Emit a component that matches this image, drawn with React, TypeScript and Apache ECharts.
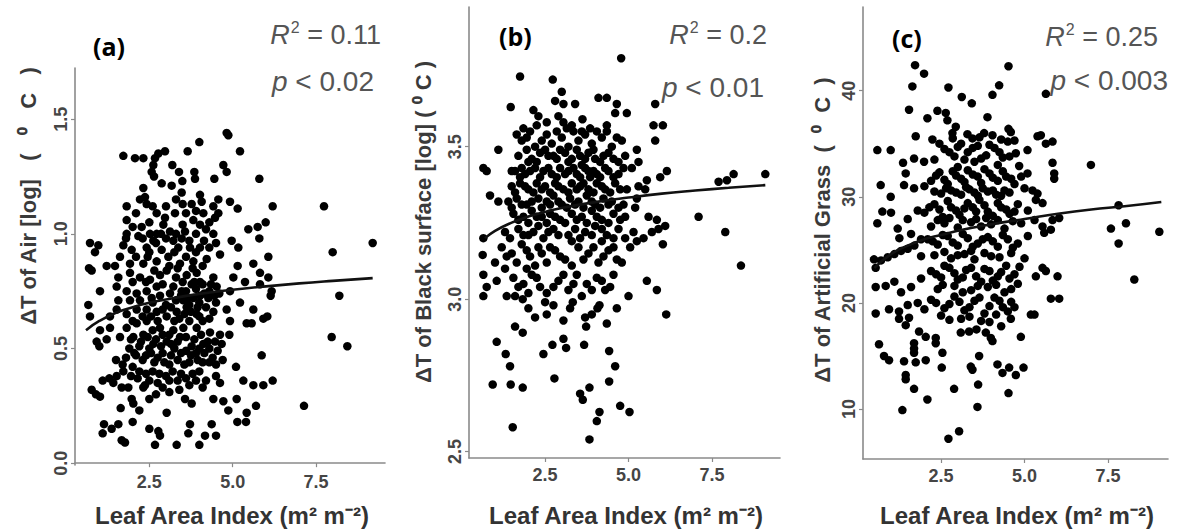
import React, { useEffect, useRef } from "react";
import * as echarts from "echarts";

// ---------- data ----------
const xTicks = [2.5, 5, 7.5];
const airTicks = [0, 0.5, 1, 1.5];
const blackTicks = [2.5, 3, 3.5];
const grassTicks = [10, 20, 30, 40];

const airPoints: [number, number][] = [
  [4.82,1.44],[4.87,1.43],[4.0,1.40],[5.22,1.36],[3.65,1.36],[2.97,1.36],[2.77,1.35],[2.67,1.33],[1.72,1.34],[2.07,1.33],[2.32,1.33],
  [3.19,1.30],[2.62,1.30],[4.72,1.30],[4.82,1.27],[3.39,1.27],[2.57,1.27],[5.8,1.24],[3.85,1.27],[3.87,1.24],[2.64,1.25],[4.45,1.24],[2.87,1.22],[3.49,1.23],[3.17,1.21],
  [2.32,1.20],[3.47,1.18],[2.37,1.16],[2.22,1.15],[4.02,1.17],[4.07,1.14],[4.57,1.15],[4.92,1.14],[6.2,1.12],[2.42,1.13],[3.5,1.13],[3.77,1.13],[4.42,1.12],[5.15,1.11],[4.57,1.09],
  [1.82,1.12],[2.1,1.09],[1.82,1.06],[2.72,1.09],[3.27,1.09],[4.12,1.09],[4.47,1.07],[5.75,1.03],[5.99,1.05],
  [2.97,1.07],[2.27,1.03],[2.92,1.04],[3.82,1.06],[4.02,1.04],[3.57,1.01],[3.12,1.01],[2.72,1.0],[4.42,1.0],[5.47,1.02],
  [1.82,1.0],[1.8,0.98],[2.17,0.99],[2.52,1.0],[2.62,0.97],[3.22,0.97],[3.47,0.98],[4.14,0.97],[4.97,0.97],[5.17,0.94],[5.8,0.98],
  [0.72,0.96],[0.87,0.92],[0.97,0.95],[1.72,0.95],[1.97,0.93],[2.42,0.94],[2.87,0.93],[3.37,0.94],[3.72,0.94],[4.02,0.94],[4.62,0.91],[6.07,0.90],
  [0.69,0.85],[0.77,0.84],[1.22,0.86],[1.62,0.90],[1.47,0.86],[1.92,0.87],[2.32,0.87],[2.72,0.88],[3.07,0.9],[3.42,0.87],[3.82,0.88],[4.22,0.89],[5.15,0.86],[5.62,0.87],[5.82,0.83],[6.07,0.81],
  [1.57,0.81],[1.92,0.83],[2.22,0.81],[2.52,0.8],[2.82,0.82],[3.02,0.84],[3.62,0.82],[3.92,0.83],[4.42,0.81],[5.02,0.81],[5.37,0.79],[5.82,0.78],[6.14,0.73],
  [0.67,0.69],[0.72,0.64],[1.02,0.75],[1.52,0.77],[1.82,0.75],[2.12,0.74],[2.42,0.75],[2.72,0.77],[3.22,0.77],[3.47,0.75],[3.77,0.78],[4.02,0.79],[4.52,0.77],[4.92,0.75],[6.17,0.75],
  [1.57,0.71],[1.92,0.71],[2.22,0.71],[2.57,0.72],[2.82,0.73],[3.12,0.74],[3.52,0.71],[3.82,0.72],[4.02,0.73],[4.27,0.72],[4.82,0.67],[5.22,0.7],[5.62,0.67],[6.04,0.64],[5.57,0.61],[5.42,0.61],
  [1.02,0.58],[1.32,0.64],[1.52,0.67],[1.82,0.65],[2.12,0.67],[2.42,0.67],[2.72,0.66],[3.02,0.64],[3.32,0.66],[3.62,0.68],[3.92,0.65],[4.42,0.66],[4.92,0.62],[5.92,0.63],
  [1.32,0.59],[1.82,0.59],[2.12,0.61],[2.42,0.62],[2.82,0.59],[3.22,0.58],[3.52,0.59],[3.92,0.59],[4.32,0.57],[4.62,0.56],[4.9,0.56],
  [0.92,0.53],[1.22,0.54],[1.62,0.55],[2.02,0.55],[2.32,0.56],[2.62,0.52],[3.02,0.53],[3.42,0.55],[3.77,0.51],[4.12,0.52],[4.47,0.53],[4.67,0.52],[5.87,0.47],
  [1.0,0.51],[1.1,0.36],[0.77,0.32],[0.9,0.30],[1.02,0.29],[1.14,0.17],[1.1,0.13],[1.37,0.15],[1.57,0.17],[1.67,0.10],[1.77,0.09],[2.0,0.18],[1.64,0.24],[1.97,0.28],[2.02,0.26],[2.2,0.23],[2.5,0.28],[2.5,0.15],[2.77,0.14],[2.82,0.12],[2.67,0.08],[3.02,0.22],[3.32,0.08],[3.57,0.28],[3.77,0.26],[3.72,0.17],[3.67,0.13],[4.0,0.08],[4.17,0.12],[4.37,0.17],[4.5,0.12],[4.42,0.28],[4.72,0.27],[4.87,0.23],[5.12,0.28],[5.1,0.42],[5.14,0.18],[5.4,0.18],[5.42,0.22],[5.7,0.25],[5.62,0.34],[5.92,0.34],[6.2,0.36],[5.32,0.36],[4.62,0.35],[7.14,0.25],
  [1.42,0.35],[1.67,0.33],[1.87,0.33],[2.32,0.33],[2.37,0.34],[1.3,0.37],[1.52,0.38],[1.72,0.40],[2.0,0.42],[2.2,0.40],[2.4,0.39],[2.6,0.40],[2.8,0.39],[3.0,0.38],[3.2,0.40],[3.35,0.36],[3.6,0.37],[3.8,0.39],[4.0,0.40],[4.2,0.36],[4.5,0.38],[2.9,0.33],[3.1,0.31],[3.4,0.32],[2.7,0.30],[4.3,0.44],
  [1.5,0.45],[1.8,0.46],[2.1,0.47],[2.3,0.45],[2.55,0.48],[2.75,0.46],[2.95,0.44],[3.15,0.47],[3.35,0.45],[3.55,0.43],[3.75,0.47],[3.95,0.45],[4.15,0.48],[4.4,0.46],[4.7,0.45],[1.9,0.50],[2.2,0.51],[2.5,0.50],[2.85,0.51],[3.25,0.50],[3.6,0.49],[4.0,0.50],[4.3,0.50],
  [7.74,1.12],[9.2,0.96],[8.0,0.92],[8.2,0.73],[7.97,0.55],[8.44,0.51],
  [3.3,0.71],[3.6,0.75],[3.9,0.76],[4.1,0.78],[4.3,0.75],[4.0,0.70],[3.7,0.69],[3.4,0.63],[3.7,0.62],[4.1,0.62],[4.2,0.68],[3.5,0.79],[3.3,0.81],[2.9,0.78],[2.6,0.70],[2.3,0.64],[2.0,0.62],[2.6,0.58],[3.1,0.56],[3.0,0.69],[2.4,0.79],[2.0,0.79],[4.5,0.70],[4.6,0.74],
  [2.5,0.92],[2.7,0.96],[3.0,0.98],[3.3,1.0],[3.6,0.9],[3.9,0.92],[4.3,0.94],[4.5,0.96],[2.1,0.9],[3.1,0.86],[3.9,1.0],[4.3,1.05],[2.5,1.05],[3.0,1.12],[3.6,1.09],
  [1.95,0.54],[2.25,0.53],[2.45,0.55],[2.7,0.54],[2.9,0.56],[3.15,0.52],[3.35,0.53],[3.6,0.55],[3.85,0.54],[4.05,0.56],[4.25,0.53],[4.55,0.49],
  [2.05,0.48],[2.4,0.47],[2.65,0.44],[2.9,0.48],[3.1,0.43],[3.45,0.48],[3.7,0.44],[3.9,0.48],[4.1,0.44],[4.5,0.43],[1.7,0.43],
  [2.15,0.37],[2.5,0.36],[2.75,0.35],[3.1,0.36],[3.45,0.39],[3.7,0.34],[3.9,0.36],[4.1,0.33],[1.95,0.38],
  [3.45,0.73],[3.65,0.72],[3.85,0.79],[4.15,0.74],[4.35,0.78],[4.45,0.73],[3.95,0.68],[3.55,0.65],[3.75,0.66],[4.0,0.64],[4.3,0.63],[2.9,0.67],[3.15,0.68],[2.55,0.64],[2.75,0.62],[3.25,0.62],[3.8,0.85],[4.1,0.86],[3.35,0.85],[2.65,0.84],
  [2.3,0.98],[2.85,1.0],[3.5,1.04],[3.7,0.97],[4.2,1.02],[2.6,1.12],[3.3,1.15],[3.9,1.1],[2.0,1.03],[2.45,0.9],[3.25,0.92]
];

const blackPoints: [number, number][] = [
  [4.78,3.79],[1.75,3.73],[2.73,3.72],[3.0,3.68],[2.8,3.65],[3.05,3.64],[3.4,3.64],[4.1,3.66],[4.35,3.66],[4.65,3.64],[4.95,3.61],[5.8,3.64],[1.47,3.63],[2.15,3.62],[2.3,3.60],[3.62,3.59],[2.55,3.58],[3.05,3.58],[3.3,3.57],[3.85,3.56],[4.35,3.57],[5.75,3.57],[6.03,3.57],[1.85,3.56],[2.25,3.57],[1.65,3.54],[1.95,3.53],[5.8,3.52],[1.1,3.49],[5.25,3.49],[4.6,3.61],[2.9,3.60],
  [0.65,3.43],[0.75,3.42],[0.85,3.34],[1.1,3.32],[1.5,3.42],[1.8,3.43],[2.0,3.45],[0.65,3.2],[0.63,3.145],[0.65,3.08],[0.75,3.04],[0.65,3.01],[1.0,3.12],[1.05,3.06],[1.35,3.01],[1.6,3.01],[1.83,3.0],[1.3,3.1],[1.6,2.91],[1.83,2.89],[2.2,2.94],[1.05,2.86],[1.32,2.82],[1.45,2.78],[0.93,2.72],[1.47,2.72],[1.83,2.71],[1.53,2.58],
  [6.15,3.42],[5.95,3.40],[5.55,3.39],[5.5,3.36],[7.7,3.385],[7.95,3.39],[8.15,3.41],[9.1,3.41],[7.1,3.27],[7.9,3.22],[8.37,3.11],
  [2.45,2.82],[2.72,2.85],[2.78,2.74],[3.05,2.87],[3.13,2.84],[3.67,2.85],[3.73,2.91],[3.7,2.94],[3.25,2.97],[3.33,2.99],[3.83,2.71],[3.55,2.69],[3.63,2.67],[3.83,2.54],[4.05,2.6],[4.13,2.63],[4.42,2.83],[4.6,2.78],[4.42,2.73],[4.75,2.65],[5.03,2.63],[4.13,2.98],[4.07,2.97],[4.65,2.97],[5.0,3.01],[5.55,3.06],[5.85,3.03],[6.13,2.95],
  [4.8,3.12],[5.05,3.17],[5.25,3.19],[6.03,3.18],[6.1,3.24],[5.9,3.23],[5.7,3.22],[5.45,3.2],[5.6,3.27],[5.85,3.26],[5.2,3.3],[5.25,3.33],
  [2.4,3.52],[2.7,3.51],[3.0,3.53],[3.2,3.50],[3.5,3.52],[3.7,3.54],[3.9,3.51],[4.2,3.53],[4.5,3.50],[4.8,3.52],[2.2,3.50],[3.35,3.55],[4.05,3.55],
  [1.7,3.47],[2.1,3.46],[2.35,3.48],[2.6,3.47],[2.85,3.46],[3.1,3.48],[3.3,3.46],[3.55,3.47],[3.8,3.48],[4.0,3.46],[4.25,3.47],[4.55,3.46],[4.9,3.47],[5.3,3.45],
  [1.6,3.42],[1.9,3.41],[2.2,3.43],[2.45,3.42],[2.7,3.41],[2.95,3.43],[3.2,3.42],[3.45,3.41],[3.7,3.43],[3.95,3.42],[4.15,3.40],[4.4,3.42],[4.7,3.41],[5.1,3.43],[3.6,3.44],[3.85,3.40],
  [1.5,3.37],[1.75,3.38],[2.0,3.36],[2.25,3.38],[2.5,3.37],[2.8,3.38],[3.05,3.36],[3.3,3.38],[3.55,3.37],[3.8,3.36],[4.05,3.38],[4.3,3.36],[4.6,3.38],[4.95,3.36],[5.3,3.37],
  [1.4,3.32],[1.65,3.33],[1.95,3.31],[2.3,3.33],[2.55,3.32],[2.75,3.34],[3.0,3.31],[3.25,3.33],[3.5,3.32],[3.75,3.34],[4.0,3.31],[4.25,3.33],[4.5,3.32],[4.85,3.31],
  [1.55,3.28],[1.85,3.27],[2.1,3.29],[2.4,3.27],[2.65,3.28],[2.95,3.26],[3.3,3.28],[3.6,3.27],[3.9,3.29],[4.2,3.26],[4.55,3.28],[4.9,3.27],
  [1.3,3.22],[1.7,3.23],[2.0,3.21],[2.3,3.24],[2.6,3.22],[2.9,3.21],[3.4,3.23],[3.7,3.22],[4.0,3.24],[4.35,3.21],[4.7,3.23],[5.15,3.22],
  [1.2,3.17],[1.5,3.15],[1.8,3.18],[2.05,3.14],[2.3,3.17],[2.55,3.12],[2.8,3.16],[3.1,3.13],[3.5,3.17],[3.8,3.15],[4.1,3.12],[4.4,3.16],[4.65,3.13],[2.2,3.11],[1.95,3.10],[3.3,3.19],[4.2,3.19],
  [1.55,3.07],[1.85,3.05],[2.1,3.08],[2.35,3.04],[2.55,3.02],[2.9,3.06],[3.2,3.03],[3.45,3.08],[3.75,3.05],[4.05,3.07],[4.3,3.03],[4.55,3.08],[2.5,2.99],[2.75,2.98],[3.6,3.01],
  [2.55,2.95],[3.05,2.93],[3.9,2.95],[4.35,2.92],[2.0,2.97],
  [1.8,3.52],[2.05,3.55],[2.55,3.54],[2.85,3.55],[3.15,3.56],[3.6,3.55],[4.35,3.55],[4.65,3.53],
  [1.95,3.49],[2.25,3.45],[2.5,3.49],[2.75,3.47],[2.95,3.49],[3.2,3.45],[3.45,3.49],[3.7,3.46],[3.95,3.49],[4.15,3.45],[4.4,3.48],[4.7,3.45],
  [1.75,3.40],[2.05,3.42],[2.35,3.40],[2.6,3.43],[2.85,3.40],[3.1,3.41],[3.35,3.43],[3.55,3.40],[3.8,3.42],[4.05,3.41],[4.3,3.43],[4.55,3.40],[4.85,3.43],
  [1.6,3.35],[1.9,3.37],[2.15,3.35],[2.4,3.36],[2.65,3.35],[2.9,3.37],[3.2,3.35],[3.45,3.36],[3.65,3.38],[3.95,3.35],[4.2,3.37],[4.45,3.35],[4.75,3.36],
  [1.5,3.30],[1.8,3.31],[2.1,3.32],[2.4,3.30],[2.65,3.31],[2.9,3.32],[3.15,3.30],[3.4,3.31],[3.65,3.30],[3.9,3.32],[4.15,3.30],[4.4,3.31],[4.7,3.30],
  [1.7,3.26],[2.0,3.25],[2.25,3.27],[2.55,3.25],[2.8,3.27],[3.1,3.25],[3.45,3.26],[3.75,3.25],[4.05,3.27],[4.4,3.25],[4.75,3.26],
  [1.45,3.20],[1.85,3.21],[2.15,3.22],[2.45,3.20],[2.75,3.23],[3.2,3.21],[3.55,3.20],[3.9,3.21],[4.2,3.23],[4.55,3.20],[4.9,3.20],
  [1.35,3.14],[1.65,3.12],[1.95,3.16],[2.4,3.15],[2.65,3.17],[2.95,3.14],[3.3,3.11],[3.65,3.13],[3.95,3.17],[4.25,3.14],[4.55,3.17],
  [1.7,3.04],[2.0,3.02],[2.25,3.07],[2.75,3.04],[3.05,3.08],[3.35,3.05],[3.9,3.03],[4.2,3.06],[4.45,3.04]
];

const grassPoints: [number, number][] = [
  [1.72,42.4],[1.99,41.6],[4.52,42.3],[1.64,40.4],[2.72,40.3],[4.24,40.5],[4.04,39.6],[3.12,39.4],[3.42,38.8],[5.64,39.7],[1.54,38.2],[2.39,38.1],[2.64,37.9],[2.69,37.2],[2.09,37.4],[3.89,37.5],[1.74,35.7],[2.24,35.4],[2.84,36.0],[2.94,36.6],[0.59,34.4],[0.99,34.4],[3.29,35.9],[3.44,35.5],[3.79,36.0],[4.04,35.8],[4.52,36.4],[4.59,36.1],[5.39,35.7],[5.49,35.8],[5.64,35.0],[5.84,35.2],[5.09,34.4],[4.74,34.1],[1.36,33.2],[1.69,33.6],[1.99,33.3],[5.84,33.2],[5.89,32.2],[5.89,31.7],[5.09,32.2],[4.84,32.9],[6.99,33.0],
  [0.69,31.1],[0.99,30.0],[0.74,28.6],[0.59,27.5],[1.44,32.2],[1.39,31.1],[1.69,30.8],[0.49,24.1],[0.54,23.3],[0.54,21.5],[0.84,21.6],[0.54,19.0],[0.94,19.4],[1.24,19.2],[1.24,18.5],[0.64,16.1],[0.79,15.0],[0.94,14.6],[1.39,14.5],[1.44,13.2],[1.44,12.8],[1.34,9.9],[1.69,11.9],[2.09,10.9],[1.69,16.2],[1.69,15.7],[1.69,15.3],[1.74,14.4],[2.04,14.6],[1.54,18.6],[1.44,17.9],[1.84,17.3],[2.04,16.8],[2.34,16.7],[2.34,16.2],[2.54,15.3],[2.52,13.9],[2.89,11.9],[2.72,7.2],[3.04,7.9],[3.59,10.2],[3.61,12.3],[3.64,15.0],[3.39,14.0],[3.44,13.7],[3.09,17.2],[3.34,17.3],[3.56,17.5],[3.84,17.2],[3.99,16.7],[4.04,16.4],[4.19,14.2],[4.34,13.4],[4.54,13.9],[4.74,13.2],[4.97,13.9],[4.52,11.5],[4.89,16.8],[5.19,18.9],[4.59,18.5],
  [5.24,30.6],[5.39,30.3],[5.34,29.7],[5.54,29.4],[6.04,28.0],[5.84,27.8],[5.79,26.9],[5.54,27.2],[5.59,26.6],[7.59,27.0],[7.82,29.2],[8.04,27.5],[7.82,25.6],[9.04,26.7],[8.29,22.2],[5.99,22.5],[6.04,20.4],[5.79,20.4],[5.54,23.3],[5.64,23.0],[5.34,22.5],
  [0.7,24.0],[0.9,24.3],[1.1,24.6],[1.3,24.9],[1.5,25.1],[1.7,25.4],[1.0,28.5],[1.2,27.0],[1.5,27.9],[1.8,28.7],[1.6,26.5],[1.9,26.0],[1.1,22.0],[1.3,21.0],[1.6,21.5],[1.9,22.3],[1.8,20.0],[1.5,19.8],[2.0,19.4],[1.9,24.4],[1.25,26.1],
  [2.6,34.5],[2.9,33.8],[3.1,35.0],[3.3,34.2],[3.6,34.8],[3.85,33.9],[4.1,34.6],[4.35,33.7],[4.5,35.2],[3.0,32.8],[3.5,33.3],[4.2,33.0],[2.3,33.5],[4.7,35.3],
  [2.2,31.5],[2.45,32.3],[2.7,31.2],[2.95,32.0],[3.2,31.4],[3.45,32.1],[3.7,31.3],[3.95,32.2],[4.2,31.5],[4.45,31.9],[4.7,31.2],[5.0,30.8],[2.5,30.3],[2.8,30.6],[3.1,30.2],[3.35,30.7],[3.6,30.1],[3.9,30.5],[4.15,30.2],[4.4,30.6],[2.0,31.0],
  [2.0,28.5],[2.3,29.3],[2.55,28.1],[2.8,29.0],[3.05,28.3],[3.3,29.4],[3.55,28.6],[3.8,29.2],[4.05,28.2],[4.3,29.0],[4.55,28.4],[4.8,29.3],[5.1,28.7],[2.2,27.2],[2.6,27.5],[3.0,27.1],[3.4,27.6],[3.7,27.2],[4.0,27.4],[4.4,27.0],[4.9,27.5],[5.3,27.8],
  [2.1,26.0],[2.4,25.5],[2.7,26.3],[3.0,25.4],[3.3,26.1],[3.6,25.6],[3.9,26.2],[4.2,25.3],[4.5,26.0],[4.8,25.6],[5.1,26.3],[2.3,24.5],[2.8,24.2],[3.2,24.6],[3.5,24.1],[4.0,24.4],[4.6,24.7],[5.0,24.2],
  [2.2,23.0],[2.5,22.4],[2.75,23.3],[3.0,22.2],[3.25,23.1],[3.55,22.5],[3.8,23.2],[4.05,22.1],[4.3,22.9],[4.55,22.3],[4.85,23.4],[2.4,21.3],[2.9,21.6],[3.4,21.2],[3.9,21.5],[4.4,21.0],[4.8,21.8],
  [2.2,20.3],[2.6,19.5],[2.9,20.6],[3.2,19.3],[3.5,20.2],[3.8,19.0],[4.1,20.5],[4.35,19.6],[4.6,20.1],[2.75,18.4],[3.35,18.7],[3.95,18.2],[4.3,17.8],[5.3,18.9],
  [2.45,35.0],[2.75,34.2],[3.0,34.7],[3.2,33.5],[3.45,34.6],[3.7,33.6],[3.95,34.9],[4.25,34.2],[4.55,33.8],[2.85,35.5],[3.65,35.6],[4.3,35.4],
  [2.35,32.0],[2.6,31.6],[2.85,32.4],[3.1,31.7],[3.3,32.5],[3.6,31.9],[3.8,32.6],[4.05,31.8],[4.35,32.4],[4.6,31.7],[4.9,31.9],[2.65,30.8],[2.95,30.4],[3.25,30.9],[3.5,30.4],[3.75,30.8],[4.05,30.6],[4.3,30.1],[4.55,30.4],[2.3,30.5],
  [2.15,29.0],[2.45,28.8],[2.7,29.6],[2.95,28.7],[3.2,28.9],[3.45,29.0],[3.65,29.7],[3.9,28.6],[4.2,29.4],[4.45,28.8],[4.7,28.6],[2.4,27.8],[2.75,28.0],[3.15,27.8],[3.55,27.9],[3.85,28.0],[4.2,27.8],[4.65,27.7],
  [2.25,25.8],[2.55,26.4],[2.85,25.7],[3.15,26.5],[3.45,25.3],[3.75,26.0],[4.05,25.8],[4.35,26.4],[4.65,25.2],[2.6,24.8],[3.0,24.5],[3.4,24.9],[3.8,24.7],[4.25,24.3],
  [2.35,22.7],[2.6,23.5],[2.9,22.8],[3.15,22.4],[3.4,23.3],[3.7,22.0],[3.95,23.0],[4.2,22.5],[4.45,23.5],[4.7,22.7],[2.55,21.7],[3.15,21.0],[3.6,21.6],[4.15,21.7],[4.6,21.3],
  [2.35,20.0],[2.75,19.9],[3.05,20.1],[3.35,19.6],[3.65,20.5],[3.95,19.7],[4.25,20.2],[4.5,19.2],[2.5,18.8],[3.1,18.5],[3.7,18.3],[4.15,18.9],[4.7,19.6]
];

// fitted curves
const airFitX = [0.6, 1, 1.5, 2, 2.5, 3, 4, 5, 6, 7, 8, 9.2];
const airFitY = [0.58, 0.62, 0.656, 0.68, 0.699, 0.714, 0.738, 0.756, 0.771, 0.784, 0.795, 0.807];
const blackFitX = [0.7, 1, 1.5, 2, 2.5, 3, 4, 5, 6, 7, 8, 9.1];
const blackFitY = [3.2, 3.224, 3.251, 3.271, 3.286, 3.299, 3.318, 3.333, 3.346, 3.356, 3.365, 3.374];
const grassFitX = [0.5, 1, 1.5, 2, 2.5, 3, 4, 5, 6, 7, 8, 9.1];
const grassFitY = [23.3, 24.6, 25.4, 26.0, 26.4, 26.8, 27.4, 27.9, 28.4, 28.8, 29.1, 29.5];

const panelLabels = ["(a)", "(b)", "(c)"];
const r2Values = ["0.11", "0.2", "0.25"];
const pValues = ["0.02", "0.01", "0.003"];
const yTitles = ["ΔT of Air [log]   (   ⁰   C   )", "ΔT of Black surface [log] ( ⁰ C )", "ΔT of Artificial Grass  (  ⁰  C  )"];
const xTitle = "Leaf Area Index (m² m⁻²)";

const FONT = "'Liberation Sans', Arial, sans-serif";
const AXIS_GRAY = "#8a8a8a";
const LABEL_GRAY = "#454545";

export default function App() {
  const ref = useRef<HTMLDivElement>(null);
  useEffect(() => {
    if (!ref.current) return;
    const chart = echarts.init(ref.current, undefined, { renderer: "svg" });

    const grids = [
      { left: 75, top: 68, width: 310, height: 397 },
      { left: 469, top: 7, width: 311, height: 451 },
      { left: 863, top: 7, width: 305, height: 452 },
    ];
    const xRanges = [[0.27, 9.57], [0.22, 9.54], [0.16, 9.3]];
    const yRanges = [[-0.008, 1.723], [2.479, 3.958], [5.29, 47.88]];
    const yTicks = [airTicks, blackTicks, grassTicks];
    const yFmt = [(v: number) => v.toFixed(1), (v: number) => v.toFixed(1), (v: number) => String(Math.round(v))];
    const pts = [airPoints, blackPoints, grassPoints];
    const fits = [
      airFitX.map((x, i) => [x, airFitY[i]]),
      blackFitX.map((x, i) => [x, blackFitY[i]]),
      grassFitX.map((x, i) => [x, grassFitY[i]]),
    ];

    const axisLine = { show: true, lineStyle: { color: AXIS_GRAY, width: 1.6 } };
    const axisTick = (vals: number[]) => ({ show: true, length: 4, customValues: vals, lineStyle: { color: AXIS_GRAY, width: 1.2 } });

    const xAxis = grids.map((_, i) => ({
      type: "value",
      gridIndex: i,
      min: xRanges[i][0],
      max: xRanges[i][1],
      axisLine,
      axisTick: axisTick(xTicks),
      splitLine: { show: false },
      axisLabel: {
        customValues: xTicks,
        formatter: (v: number) => v.toFixed(1),
        color: LABEL_GRAY,
        fontFamily: FONT,
        fontWeight: "bold",
        fontSize: 18,
        margin: 8,
      },
    }));
    const yAxis = grids.map((_, i) => ({
      type: "value",
      gridIndex: i,
      min: yRanges[i][0],
      max: yRanges[i][1],
      axisLine,
      axisTick: axisTick(yTicks[i]),
      splitLine: { show: false },
      axisLabel: {
        customValues: yTicks[i],
        formatter: yFmt[i],
        rotate: 90,
        color: LABEL_GRAY,
        fontFamily: FONT,
        fontWeight: "bold",
        fontSize: 18,
        margin: 5,
      },
    }));

    const series: any[] = [];
    pts.forEach((p, i) => {
      series.push({
        type: "scatter",
        xAxisIndex: i,
        yAxisIndex: i,
        data: p,
        symbolSize: 8.5,
        itemStyle: { color: "#000", opacity: 1 },
        silent: true,
      });
      series.push({
        type: "line",
        xAxisIndex: i,
        yAxisIndex: i,
        data: fits[i],
        smooth: true,
        showSymbol: false,
        lineStyle: { color: "#111", width: 2.6 },
        silent: true,
        z: 3,
      });
    });

    const labelPos = [[93, 46], [499, 36], [892, 38]];
    const r2Pos = [[381, 34], [767, 34], [1158, 36]];
    const pPos = [[374, 81], [764, 87], [1168, 80]];
    const yTitlePos = [[28, 196], [423, 222], [822, 230]];
    const xTitleX = [232, 626, 1017];

    const graphic: any[] = [];
    for (let i = 0; i < 3; i++) {
      graphic.push({
        type: "text",
        x: labelPos[i][0],
        y: labelPos[i][1],
        style: { text: panelLabels[i], font: "bold 25px 'Open Sans', Lato, sans-serif", fill: "#000", align: "left", verticalAlign: "middle" },
      });
      graphic.push({
        type: "text",
        x: r2Pos[i][0],
        y: r2Pos[i][1],
        style: {
          text: `{i|R}{s|2}{n| = ${r2Values[i]}}`,
          align: "right",
          verticalAlign: "middle",
          rich: {
            i: { font: `italic 27px ${FONT}`, fill: "#555", verticalAlign: "bottom" },
            s: { font: `16px ${FONT}`, fill: "#555", verticalAlign: "top", padding: [0, 0, 13, 1] },
            n: { font: `27px ${FONT}`, fill: "#555", verticalAlign: "bottom" },
          },
        },
      });
      graphic.push({
        type: "text",
        x: pPos[i][0],
        y: pPos[i][1],
        style: {
          text: `{i|p}{n| < ${pValues[i]}}`,
          align: "right",
          verticalAlign: "middle",
          rich: {
            i: { font: `italic 28px ${FONT}`, fill: "#555" },
            n: { font: `28px ${FONT}`, fill: "#555" },
          },
        },
      });
      graphic.push({
        type: "text",
        x: yTitlePos[i][0],
        y: yTitlePos[i][1],
        rotation: Math.PI / 2,
        style: { text: yTitles[i], font: `bold 22px ${FONT}`, fill: "#3a3a3a", align: "center", verticalAlign: "middle" },
      });
      graphic.push({
        type: "text",
        x: xTitleX[i],
        y: 515,
        style: { text: xTitle, font: `bold 24px ${FONT}`, fill: "#333", align: "center", verticalAlign: "middle" },
      });
    }

    chart.setOption({
      animation: false,
      backgroundColor: "#fff",
      grid: grids,
      xAxis,
      yAxis,
      series,
      graphic,
    });
    return () => chart.dispose();
  }, []);

  return <div ref={ref} style={{ position: "absolute", left: 0, top: 0, width: 1177, height: 531 }} />;
}
